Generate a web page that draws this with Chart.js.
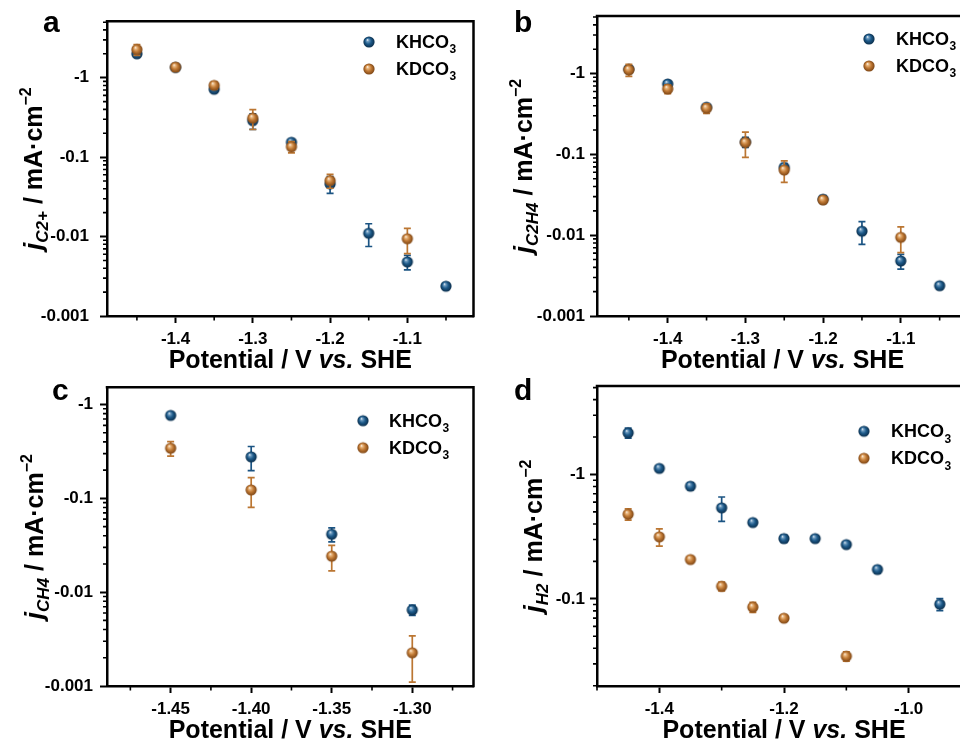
<!DOCTYPE html>
<html><head><meta charset="utf-8">
<script src="https://cdn.jsdelivr.net/npm/chart.js@4.4.1/dist/chart.umd.min.js"></script>
<style>
html,body{margin:0;padding:0;background:#fff;overflow:hidden;width:960px;height:741px;position:relative;}
.p{position:absolute;}
canvas{display:block;}
</style></head><body>
<div class="p" style="left:0;top:0;width:480px;height:370px"><canvas id="ca" width="480" height="370"></canvas></div>
<div class="p" style="left:480px;top:0;width:500px;height:370px"><canvas id="cb" width="500" height="370"></canvas></div>
<div class="p" style="left:0;top:370px;width:480px;height:371px"><canvas id="cc" width="480" height="371"></canvas></div>
<div class="p" style="left:480px;top:370px;width:500px;height:371px"><canvas id="cd" width="500" height="371"></canvas></div>
<script>
// ===================== DATA (|j| in mA·cm^-2, plotted as negative currents) =====================
const seriesNames = ['KHCO3', 'KDCO3'];

const potK = [-1.45, -1.40, -1.35, -1.30, -1.25, -1.20, -1.15, -1.10, -1.05];
const potD = [-1.45, -1.40, -1.35, -1.30, -1.25, -1.20, -1.10];

// panel a: C2+
const jC2p_K     = [2.0, 1.35, 0.716, 0.288, 0.154, 0.046, 0.011, 0.0048, 0.00237];
const jC2p_K_err = [0.15, 0.08, 0.05, 0.064, 0.01, 0.011, 0.0035, 0.001, 0.0002];
const jC2p_D     = [2.26, 1.36, 0.80, 0.31, 0.135, 0.0506, 0.0094];
const jC2p_D_err = [0.35, 0.15, 0.08, 0.087, 0.022, 0.01, 0.0033];

// panel b: C2H4
const jC2H4_K     = [1.13, 0.743, 0.383, 0.142, 0.069, 0.0278, 0.0112, 0.0048, 0.00237];
const jC2H4_K_err = [0.1, 0.05, 0.03, 0.02, 0.008, 0.003, 0.0035, 0.001, 0.0002];
const jC2H4_D     = [1.11, 0.644, 0.372, 0.140, 0.064, 0.0273, 0.0094];
const jC2H4_D_err = [0.19, 0.08, 0.05, 0.048, 0.019, 0.002, 0.0033];

// panel c: CH4
const potCH4 = [-1.45, -1.40, -1.35, -1.30];
const jCH4_K     = [0.766, 0.277, 0.0414, 0.00646];
const jCH4_K_err = [0.03, 0.08, 0.007, 0.0008];
const jCH4_D     = [0.342, 0.123, 0.0242, 0.00226];
const jCH4_D_err = [0.06, 0.043, 0.0073, 0.00116];

// panel d: H2
const potH2_K = [-1.45, -1.40, -1.35, -1.30, -1.25, -1.20, -1.15, -1.10, -1.05, -0.95];
const jH2_K     = [2.16, 1.12, 0.805, 0.539, 0.411, 0.305, 0.305, 0.273, 0.172, 0.0905];
const jH2_K_err = [0.2, 0.05, 0.05, 0.12, 0.02, 0.02, 0.015, 0.01, 0.01, 0.01];
const potH2_D = [-1.45, -1.40, -1.35, -1.30, -1.25, -1.20, -1.10];
const jH2_D     = [0.479, 0.315, 0.207, 0.126, 0.0857, 0.0698, 0.0345];
const jH2_D_err = [0.05, 0.05, 0.008, 0.01, 0.008, 0.003, 0.003];

// tick values / labels
const xTicksAB = [-1.4, -1.3, -1.2, -1.1];
const xLabelsAB = ['-1.4', '-1.3', '-1.2', '-1.1'];
const xMinorAB = [-1.45, -1.35, -1.25, -1.15, -1.05];
const xTicksC = [-1.45, -1.40, -1.35, -1.30];
const xLabelsC = ['-1.45', '-1.40', '-1.35', '-1.30'];
const xMinorC = [-1.475, -1.425, -1.375, -1.325, -1.275];
const xTicksD = [-1.4, -1.2, -1.0];
const xLabelsD = ['-1.4', '-1.2', '-1.0'];
const xMinorD = [-1.5, -1.3, -1.1, -0.9];
const yTicksABC = [1, 0.1, 0.01, 0.001];
const yLabelsABC = ['-1', '-0.1', '-0.01', '-0.001'];
const yTicksD = [1, 0.1];
const yLabelsD = ['-1', '-0.1'];

// ===================== RENDERING =====================
const FONT = '"Liberation Sans", Arial, Helvetica, sans-serif';
const BLUE = '#1b5483', ORANGE = '#bb7632';

function sphereImg(base, light, dark, r) {
  const c = document.createElement('canvas');
  const s = Math.ceil(2 * r + 2); c.width = s; c.height = s;
  const g = c.getContext('2d'); const cx = s / 2, cy = s / 2;
  const grad = g.createRadialGradient(cx - r * 0.3, cy - r * 0.4, 0, cx, cy, r);
  grad.addColorStop(0, '#ffffff');
  grad.addColorStop(0.22, light);
  grad.addColorStop(0.55, base);
  grad.addColorStop(1, dark);
  g.fillStyle = grad; g.beginPath(); g.arc(cx, cy, r, 0, Math.PI * 2); g.fill();
  return c;
}
const blueBall = sphereImg('#1d5a8a', '#6f9cc0', '#0a2d4a', 5.6);
const orangeBall = sphereImg('#c27b36', '#eab982', '#7c4413', 5.6);

function fontStr(p) { return (p.it ? 'italic ' : '') + (p.w || 'bold') + ' ' + p.s + 'px ' + FONT; }
function richWidth(ctx, parts) { let w = 0; for (const p of parts) { ctx.font = fontStr(p); w += ctx.measureText(p.t).width; } return w; }
function drawRich(ctx, parts, x, y) { for (const p of parts) { ctx.font = fontStr(p); ctx.fillText(p.t, x, y + (p.dy || 0)); x += ctx.measureText(p.t).width; } }
function pts(xs, ys) { return xs.map((x, i) => ({ x: x, y: ys[i] })); }
function lbl(ticks, labels) { return v => { const i = ticks.findIndex(t => Math.abs(t - v) <= Math.abs(t) * 1e-6 + 1e-12); return i >= 0 ? labels[i] : ''; }; }

function makePanel(id, P) {
  const decor = {
    id: 'decor',
    beforeDatasetDraw(chart, args) {
      const ds = chart.data.datasets[args.index]; const meta = args.meta; const ys = chart.scales.y;
      const ctx = chart.ctx; ctx.save(); ctx.strokeStyle = ds.errColor; ctx.lineWidth = 1.7;
      ctx.beginPath();
      meta.data.forEach((pt, i) => {
        const e = ds.err[i]; if (!e) return;
        const v = ds.data[i].y;
        const yt = ys.getPixelForValue(v + e); const yb = ys.getPixelForValue(Math.max(v - e, v * 0.05));
        ctx.moveTo(pt.x, yt); ctx.lineTo(pt.x, yb);
        ctx.moveTo(pt.x - 3.5, yt); ctx.lineTo(pt.x + 3.5, yt);
        ctx.moveTo(pt.x - 3.5, yb); ctx.lineTo(pt.x + 3.5, yb);
      });
      ctx.stroke(); ctx.restore();
    },
    afterDraw(chart) {
      const ctx = chart.ctx; const a = chart.chartArea; const xs = chart.scales.x, ys = chart.scales.y;
      ctx.save();
      ctx.strokeStyle = '#000'; ctx.lineWidth = 2.5; ctx.lineCap = 'square';
      ctx.beginPath(); ctx.moveTo(a.left, a.top); ctx.lineTo(a.right, a.top); ctx.lineTo(a.right, a.bottom); ctx.stroke();
      ctx.lineWidth = 1.6; ctx.lineCap = 'butt'; ctx.beginPath();
      P.xMinor.forEach(v => { const px = xs.getPixelForValue(v); ctx.moveTo(px, a.bottom); ctx.lineTo(px, a.bottom + 4.5); });
      const lo = Math.floor(Math.log10(P.yMin)), hi = Math.ceil(Math.log10(P.yMax));
      for (let n = lo; n < hi; n++) for (let k = 2; k <= 9; k++) {
        const v = k * Math.pow(10, n); if (v <= P.yMin || v >= P.yMax) continue;
        const py = ys.getPixelForValue(v); ctx.moveTo(a.left, py); ctx.lineTo(a.left - 4, py);
      }
      ctx.stroke();
      ctx.fillStyle = '#000'; ctx.textBaseline = 'alphabetic'; ctx.textAlign = 'left';
      const xt = [{ t: 'Potential / V ', s: 25 }, { t: 'vs.', s: 25, it: true }, { t: ' SHE', s: 25 }];
      const w = richWidth(ctx, xt); drawRich(ctx, xt, (a.left + a.right) / 2 - w / 2, P.xTitleY);
      const yt = [{ t: 'j', s: 26, it: true }, { t: P.sub, s: 17, it: true, dy: 6 }, { t: ' / mA·cm', s: 25 }, { t: '\u22122', s: 16, dy: -11 }];
      const wy = richWidth(ctx, yt);
      ctx.save(); ctx.translate(P.yTitleX, (a.top + a.bottom) / 2); ctx.rotate(-Math.PI / 2); drawRich(ctx, yt, -wy / 2, 0); ctx.restore();
      ctx.font = 'bold 30px ' + FONT; ctx.fillText(P.letter, P.letterX, P.letterY);
      // legend
      const balls = [blueBall, orangeBall];
      seriesNames.forEach((name, i) => {
        const my = P.legY + i * 27;
        ctx.drawImage(balls[i], P.legX - balls[i].width / 2, my - balls[i].height / 2);
        ctx.textBaseline = 'middle';
        ctx.font = 'bold 18px ' + FONT; const main = name.slice(0, -1);
        ctx.fillText(main, P.legTX, my + 1);
        const mw = ctx.measureText(main).width;
        ctx.font = 'bold 12px ' + FONT; ctx.fillText(name.slice(-1), P.legTX + mw + 0.5, my + 8);
      });
      ctx.restore();
    }
  };
  const tickFont = { family: FONT, size: 17, weight: 'bold' };
  return new Chart(document.getElementById(id), {
    type: 'scatter',
    data: {
      datasets: [
        { label: seriesNames[0], data: pts(P.kx, P.ky), err: P.kerr, errColor: BLUE, pointStyle: blueBall, pointRadius: 5.5, order: 1, clip: false },
        { label: seriesNames[1], data: pts(P.dx, P.dy), err: P.derr, errColor: ORANGE, pointStyle: orangeBall, pointRadius: 5.5, order: 0, clip: false }
      ]
    },
    options: {
      responsive: false, animation: false, devicePixelRatio: 1,
      layout: { padding: { top: P.padTop, right: P.padRight, left: 0, bottom: 0 } },
      plugins: { legend: { display: false }, tooltip: { enabled: false } },
      scales: {
        x: {
          type: 'linear', min: P.xMin, max: P.xMax,
          afterBuildTicks: s => { s.ticks = P.xTicks.map(v => ({ value: v })); },
          afterFit: s => { s.height = P.xHeight; },
          ticks: { callback: lbl(P.xTicks, P.xLabels), font: tickFont, color: '#000', padding: P.xPad, maxRotation: 0, autoSkip: false },
          grid: { drawOnChartArea: false, tickLength: 7, tickWidth: 2, tickColor: '#000' },
          border: { color: '#000', width: 2.5 }
        },
        y: {
          type: 'logarithmic', min: P.yMin, max: P.yMax,
          afterBuildTicks: s => { s.ticks = P.yTicks.map(v => ({ value: v })); },
          afterFit: s => { s.width = P.yWidth; },
          ticks: { callback: lbl(P.yTicks, P.yLabels), font: tickFont, color: '#000', padding: P.yPad, autoSkip: false },
          grid: { drawOnChartArea: false, tickLength: 7, tickWidth: 2, tickColor: '#000' },
          border: { color: '#000', width: 2.5 }
        }
      }
    },
    plugins: [decor]
  });
}

makePanel('ca', {
  kx: potK, ky: jC2p_K, kerr: jC2p_K_err, dx: potD, dy: jC2p_D, derr: jC2p_D_err,
  xMin: -1.4887, xMax: -1.0144, xTicks: xTicksAB, xLabels: xLabelsAB, xMinor: xMinorAB,
  yMin: 0.001, yMax: 5.15, yTicks: yTicksABC, yLabels: yLabelsABC,
  padTop: 16, padRight: 4, yWidth: 107, xHeight: 54, xPad: 6, yPad: 11,
  sub: 'C2+', yTitleX: 42, xTitleY: 368, letter: 'a', letterX: 43, letterY: 32,
  legX: 369, legY: 42, legTX: 396
});
makePanel('cb', {
  kx: potK, ky: jC2H4_K, kerr: jC2H4_K_err, dx: potD, dy: jC2H4_D, derr: jC2H4_D_err,
  xMin: -1.491, xMax: -1.0135, xTicks: xTicksAB, xLabels: xLabelsAB, xMinor: xMinorAB,
  yMin: 0.001, yMax: 5.15, yTicks: yTicksABC, yLabels: yLabelsABC,
  padTop: 16, padRight: 12, yWidth: 117, xHeight: 54, xPad: 6, yPad: 5,
  sub: 'C2H4', yTitleX: 52, xTitleY: 368, letter: 'b', letterX: 34, letterY: 32,
  legX: 389, legY: 39, legTX: 416
});
makePanel('cc', {
  kx: potCH4, ky: jCH4_K, kerr: jCH4_K_err, dx: potCH4, dy: jCH4_D, derr: jCH4_D_err,
  xMin: -1.4895, xMax: -1.262, xTicks: xTicksC, xLabels: xLabelsC, xMinor: xMinorC,
  yMin: 0.001, yMax: 1.53, yTicks: yTicksABC, yLabels: yLabelsABC,
  padTop: 16, padRight: 4, yWidth: 107, xHeight: 55, xPad: 6, yPad: 7,
  sub: 'CH4', yTitleX: 43, xTitleY: 368, letter: 'c', letterX: 52, letterY: 30,
  legX: 363, legY: 50.7, legTX: 389
});
makePanel('cd', {
  kx: potH2_K, ky: jH2_K, kerr: jH2_K_err, dx: potH2_D, dy: jH2_D, derr: jH2_D_err,
  xMin: -1.5, xMax: -0.9, xTicks: xTicksD, xLabels: xLabelsD, xMinor: xMinorD,
  yMin: 0.0199, yMax: 5.15, yTicks: yTicksD, yLabels: yLabelsD,
  padTop: 16, padRight: 9, yWidth: 117, xHeight: 55, xPad: 6, yPad: 5,
  sub: 'H2', yTitleX: 62, xTitleY: 368, letter: 'd', letterX: 34, letterY: 30,
  legX: 384, legY: 61.3, legTX: 411
});
</script>
</body></html>
